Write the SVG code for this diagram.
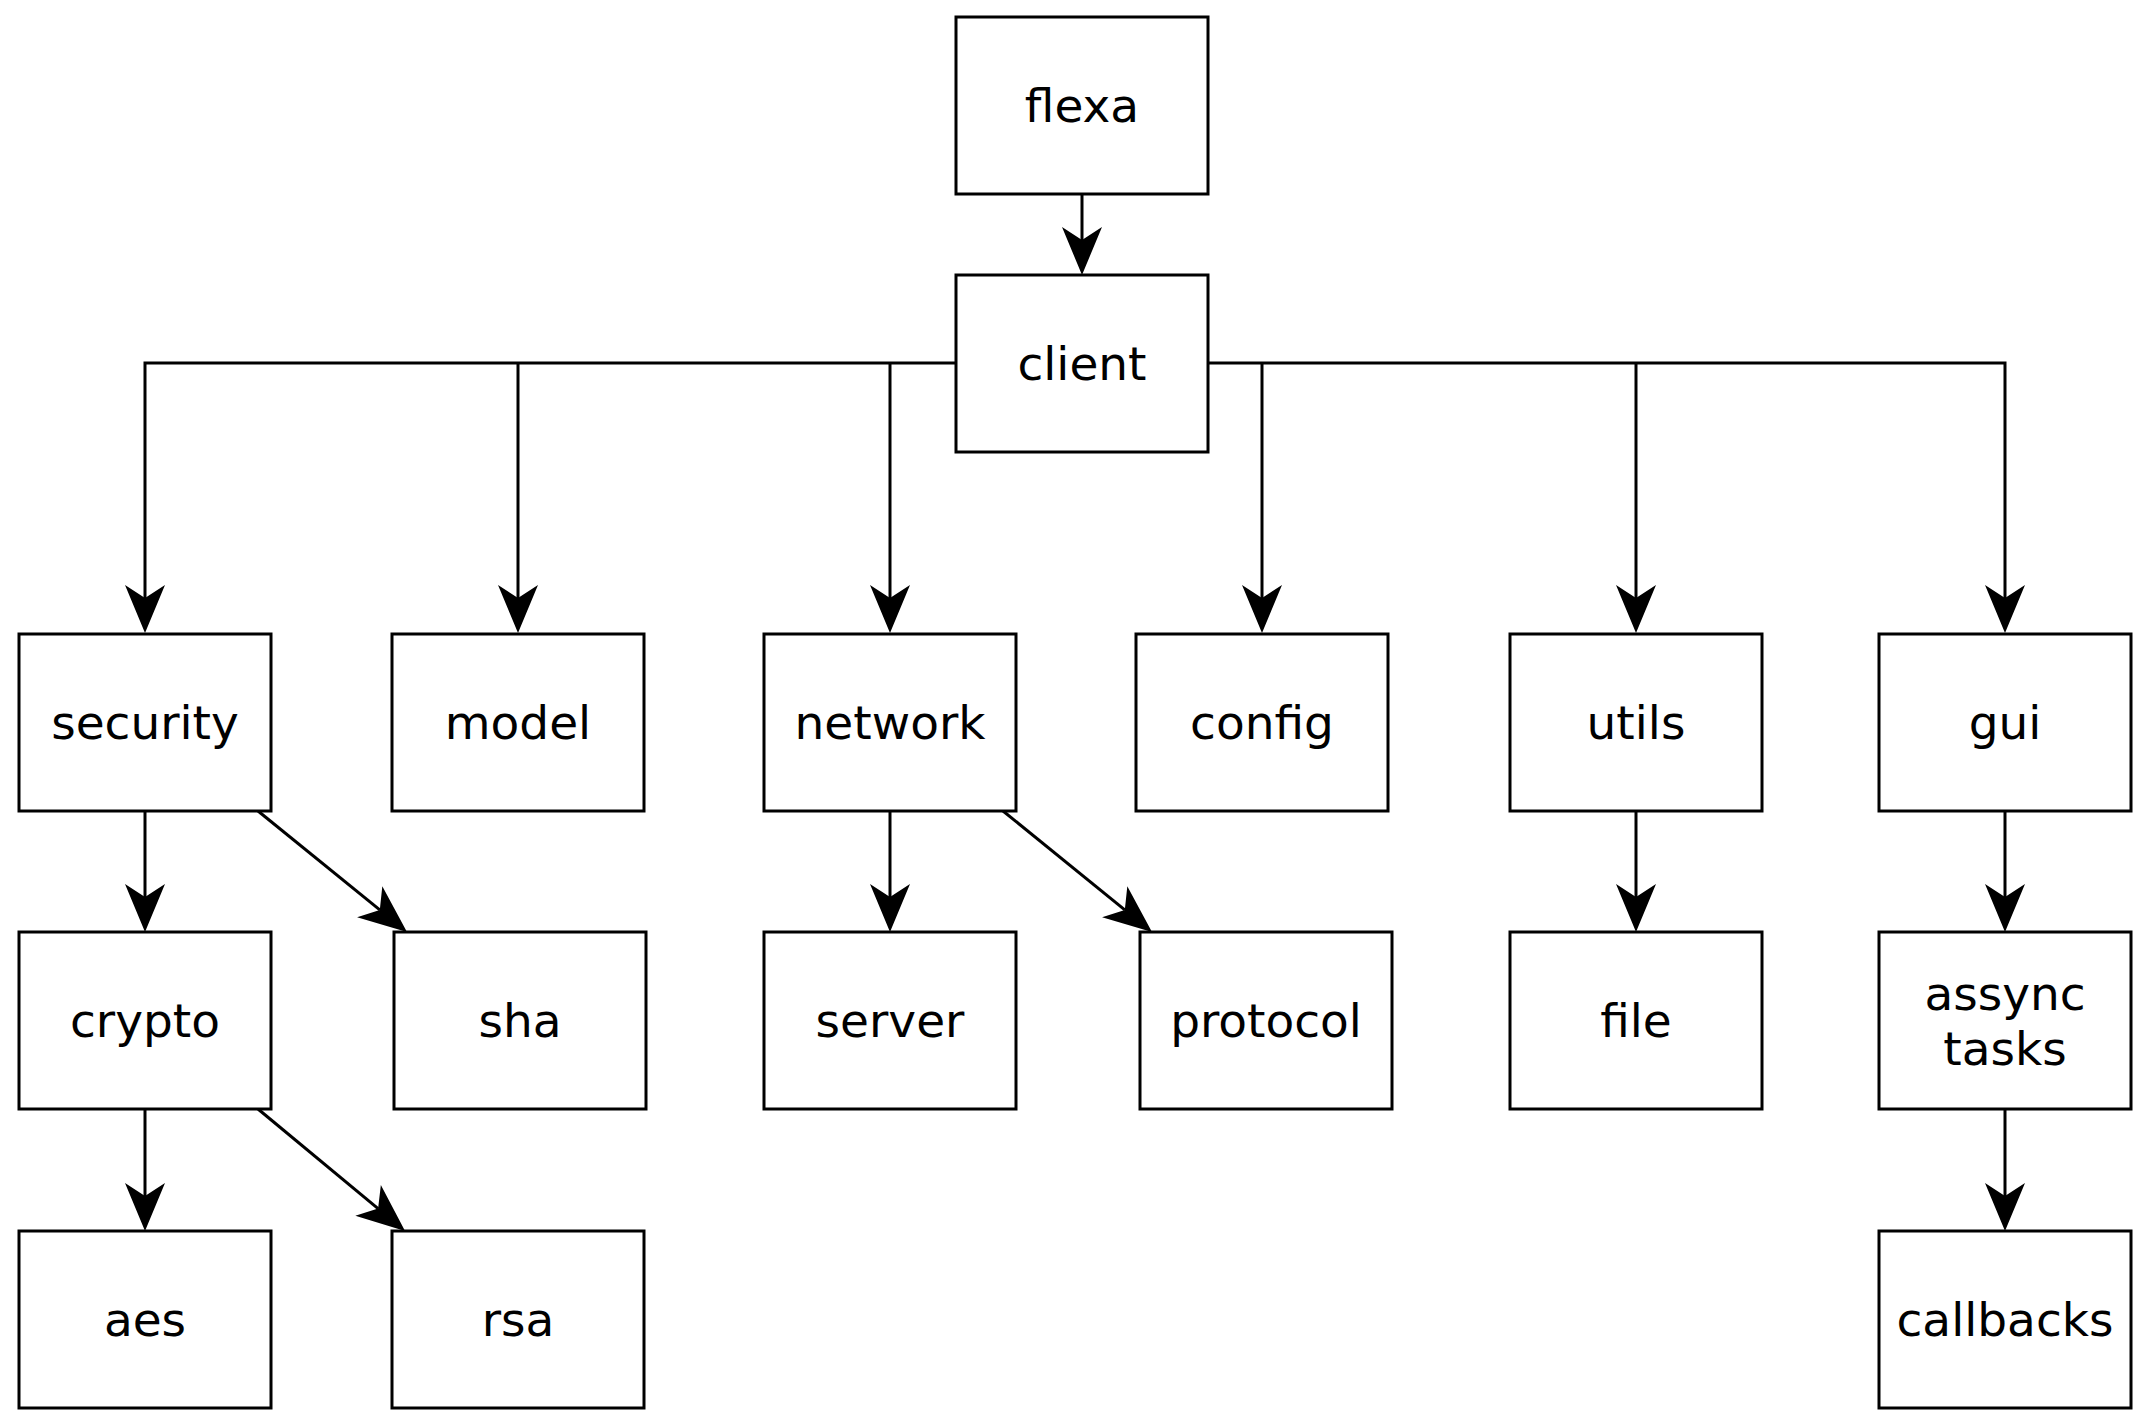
<svg xmlns="http://www.w3.org/2000/svg" width="2148" height="1428" viewBox="0 0 2148 1428">
<style>
.box{fill:#fff;stroke:#000;stroke-width:3}
.lbl{font-family:"DejaVu Sans",sans-serif;font-size:47px;fill:#000;text-anchor:middle}
.con{fill:none;stroke:#000;stroke-width:3;marker-end:url(#ah)}
.con2{fill:none;stroke:#000;stroke-width:3}
</style>
<defs>
<marker id="ah" markerUnits="userSpaceOnUse" viewBox="-14 -21 50 42" markerWidth="50" markerHeight="42" refX="0" refY="0" orient="auto">
<path d="M35,0 L-13,-20 L0,0 L-13,20 Z" fill="#000"/>
</marker>
</defs>
<rect width="2148" height="1428" fill="#fff"/>
<g id="connectors">
<path class="con" d="M1082,194 V240"/>
<path class="con" d="M956,363 H145 V598"/>
<path class="con" d="M518,363 V598"/>
<path class="con" d="M890,363 V598"/>
<path class="con" d="M1208,363 H2005 V598"/>
<path class="con" d="M1262,363 V598"/>
<path class="con" d="M1636,363 V598"/>
<path class="con" d="M145,811 V897"/>
<path class="con" d="M258,811 L379.8,909.9"/>
<path class="con" d="M890,811 V897"/>
<path class="con" d="M1003,811 L1124.8,909.9"/>
<path class="con" d="M1636,811 V897"/>
<path class="con" d="M2005,811 V897"/>
<path class="con" d="M145,1109 V1196"/>
<path class="con" d="M258,1109 L378.1,1208.6"/>
<path class="con" d="M2005,1109 V1196"/>
</g>
<g id="flexa"><rect class="box" x="956" y="17" width="252" height="177"/><text class="lbl" x="1082" y="122">flexa</text></g>
<g id="client"><rect class="box" x="956" y="275" width="252" height="177"/><text class="lbl" x="1082" y="380">client</text></g>
<g id="security"><rect class="box" x="19" y="634" width="252" height="177"/><text class="lbl" x="145" y="739">security</text></g>
<g id="model"><rect class="box" x="392" y="634" width="252" height="177"/><text class="lbl" x="518" y="739">model</text></g>
<g id="network"><rect class="box" x="764" y="634" width="252" height="177"/><text class="lbl" x="890" y="739">network</text></g>
<g id="config"><rect class="box" x="1136" y="634" width="252" height="177"/><text class="lbl" x="1262" y="739">config</text></g>
<g id="utils"><rect class="box" x="1510" y="634" width="252" height="177"/><text class="lbl" x="1636" y="739">utils</text></g>
<g id="gui"><rect class="box" x="1879" y="634" width="252" height="177"/><text class="lbl" x="2005" y="739">gui</text></g>
<g id="crypto"><rect class="box" x="19" y="932" width="252" height="177"/><text class="lbl" x="145" y="1037">crypto</text></g>
<g id="sha"><rect class="box" x="394" y="932" width="252" height="177"/><text class="lbl" x="520" y="1037">sha</text></g>
<g id="server"><rect class="box" x="764" y="932" width="252" height="177"/><text class="lbl" x="890" y="1037">server</text></g>
<g id="protocol"><rect class="box" x="1140" y="932" width="252" height="177"/><text class="lbl" x="1266" y="1037">protocol</text></g>
<g id="file"><rect class="box" x="1510" y="932" width="252" height="177"/><text class="lbl" x="1636" y="1037">file</text></g>
<g id="assync_tasks"><rect class="box" x="1879" y="932" width="252" height="177"/><text class="lbl" x="2005" y="1010">assync</text><text class="lbl" x="2005" y="1065">tasks</text></g>
<g id="aes"><rect class="box" x="19" y="1231" width="252" height="177"/><text class="lbl" x="145" y="1336">aes</text></g>
<g id="rsa"><rect class="box" x="392" y="1231" width="252" height="177"/><text class="lbl" x="518" y="1336">rsa</text></g>
<g id="callbacks"><rect class="box" x="1879" y="1231" width="252" height="177"/><text class="lbl" x="2005" y="1336">callbacks</text></g>
</svg>
